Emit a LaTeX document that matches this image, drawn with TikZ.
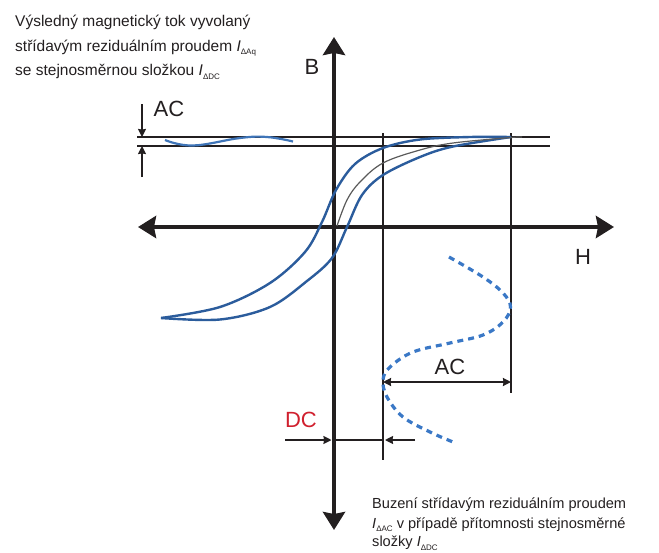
\documentclass[tikz,border=0pt]{standalone}
\usepackage{fontspec}
\setmainfont{Liberation Sans}
\usetikzlibrary{arrows.meta}
\definecolor{loopblue}{HTML}{2B5C9C}
\definecolor{waveblue}{HTML}{3F75B8}
\definecolor{dashblue}{HTML}{3A78C6}
\definecolor{initgray}{HTML}{5A5A5A}
\definecolor{dcred}{HTML}{D0202E}
\definecolor{ink}{HTML}{231F20}
\newcommand{\Isub}[1]{{\itshape I}\raisebox{-3.5pt}{\fontsize{8}{8}\selectfont #1}}
\tikzset{
  axisline/.style={draw=ink, line width=4.6pt, {Stealth[length=18pt,width=22pt,inset=2pt]}-{Stealth[length=18pt,width=22pt,inset=2pt]}},
  guide/.style={draw=ink, line width=1.8pt},
  dimarrow/.style={draw=ink, line width=1.5pt, -{Stealth[length=8pt,width=8pt,inset=0.5pt]}},
  dimboth/.style={draw=ink, line width=1.8pt, {Stealth[length=8pt,width=8pt,inset=0.5pt]}-{Stealth[length=8pt,width=8pt,inset=0.5pt]}},
  bigtxt/.style={font=\fontsize{22}{22}\selectfont, text=ink, inner sep=0pt},
  toptxt/.style={font=\fontsize{15.5}{17}\selectfont, text=ink, inner sep=0pt, anchor=base west},
  bottxt/.style={font=\fontsize{14.6}{16}\selectfont, text=ink, inner sep=0pt, anchor=base west},
  loopcurve/.style={draw=loopblue, line width=2.4pt},
}
\begin{document}
\begin{tikzpicture}[x=1pt,y=-1pt]
\useasboundingbox (0,0) rectangle (659,552);
% guide lines
\coordinate (L1a) at (137,137); \coordinate (L1b) at (550,137);
\coordinate (L2a) at (137,146); \coordinate (L2b) at (550,146);
\draw[guide] (L1a) -- (L1b);
\draw[guide] (L2a) -- (L2b);
\coordinate (V1a) at (383,133); \coordinate (V1b) at (383,460);
\coordinate (V2a) at (511,133); \coordinate (V2b) at (511,393);
\draw[guide] (V1a) -- (V1b);
\draw[guide] (V2a) -- (V2b);
% axes
\coordinate (Btop) at (334,37);
\coordinate (Bdown) at (334,530);
\coordinate (Hl) at (138,227);
\coordinate (Hr) at (614,227);
\draw[axisline] (Bdown) -- (Btop);
\draw[axisline] (Hl) -- (Hr);
% AC top-left dimension
\coordinate (ACt1) at (142,104); \coordinate (ACt2) at (142,137);
\coordinate (ACb1) at (142,177); \coordinate (ACb2) at (142,146);
\draw[dimarrow] (ACt1) -- (ACt2);
\draw[dimarrow] (ACb1) -- (ACb2);
\node[bigtxt] (acTop) at (169,109) {AC};
% wave in band
\draw[draw=waveblue, line width=2.2pt] plot[smooth, tension=0.7] coordinates {(165,140) (193,145.5) (240,138) (267,137) (293,141.5)};
% hysteresis loop
\draw[loopcurve] plot[smooth, tension=0.55] coordinates {(161,318) (220,307) (270,283) (305,252) (322,222) (336,190) (355,164) (383,148) (420,139.5) (470,137) (511,137)};
\draw[loopcurve] plot[smooth, tension=0.55] coordinates {(161,318) (220,319.5) (270,307) (307,281) (332,258) (347,227) (362,195) (383,175) (420,157) (453,146.5) (511,137)};
% initial curve
\draw[draw=initgray, line width=1.2pt] plot[smooth, tension=0.6] coordinates {(337,226) (347,200) (360,182) (383,163) (420,150) (453,143) (511,137.5) (522,137)};
% dashed excitation
\draw[draw=dashblue, line width=3.2pt, dash pattern=on 6pt off 5pt] plot[smooth, tension=0.6] coordinates {(449,257) (483,277) (503,293) (510.5,307) (503,322) (483,335) (450,343) (413,352) (390,367) (383,380) (387,397) (403,417) (430,432) (453,442)};
% AC bottom dimension
\coordinate (acL) at (383,382); \coordinate (acR) at (511,382);
\draw[dimboth] (acL) -- (acR);
\node[bigtxt] (acBot) at (450,367) {AC};
% DC dimension
\coordinate (dcA) at (285,440); \coordinate (dcB) at (331.5,440);
\coordinate (dcC) at (415,440); \coordinate (dcD) at (385,440);
\coordinate (dcM1) at (334,440); \coordinate (dcM2) at (383,440);
\draw[guide, line width=1.5pt] (dcM1) -- (dcM2);
\draw[dimarrow] (dcA) -- (dcB);
\draw[dimarrow] (dcC) -- (dcD);
\node[bigtxt, text=dcred] (dcLab) at (301,420) {DC};
% axis labels
\node[bigtxt] (Blab) at (312,67) {B};
\node[bigtxt] (Hlab) at (583,257) {H};
% texts
\node[toptxt] (t1) at (15,26.5) {Výsledný magnetický tok vyvolaný};
\node[toptxt] (t2) at (15,51) {střídavým reziduálním proudem \Isub{ΔAq}};
\node[toptxt] (t3) at (15,75.5) {se stejnosměrnou složkou \Isub{ΔDC}};
\node[bottxt] (b1) at (372,508) {Buzení střídavým reziduálním proudem};
\node[bottxt] (b2) at (372,528) {\Isub{ΔAC} v případě přítomnosti stejnosměrné};
\node[bottxt] (b3) at (372,546.5) {složky \Isub{ΔDC}};
\end{tikzpicture}
\end{document}
